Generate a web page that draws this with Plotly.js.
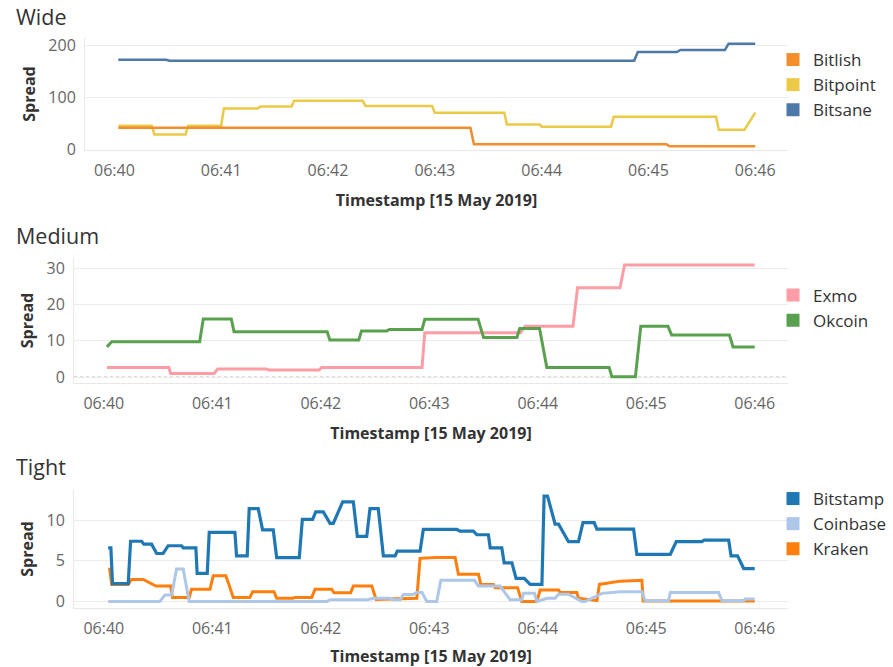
<!DOCTYPE html>
<html>
<head>
<meta charset="utf-8">
<script src="https://cdn.plot.ly/plotly-3.0.1.min.js"></script>
<style>html,body{margin:0;padding:0;background:#fff;}#chart{width:893px;height:667px;}</style>
</head>
<body>
<div id="chart"></div>
<script>
// Times are seconds after 06:40:00 on 15 May 2019
// ---- Wide ----
const bitsaneT = [2.2, 29, 31, 292, 294, 316, 318, 343, 345, 360];
const bitsaneV = [173, 173, 171, 171, 188, 188, 192, 192, 204, 204];
const bitlishT = [2.2, 200, 202, 310, 312, 360];
const bitlishV = [42, 42, 10, 10, 6, 6];
const bitpointT = [2.2, 21, 22.5, 40, 41.5, 60, 61.5, 80.5, 82, 99.5, 101, 139.5, 141, 178.5, 180, 219, 220.5, 239, 240, 279, 280.5, 338, 339.5, 354, 360];
const bitpointV = [46, 46, 29, 29, 46, 46, 79, 79, 83, 83, 94, 94, 84, 84, 71, 71, 48, 48, 44, 44, 63, 63, 38, 38, 71];
// ---- Medium ----
const okcoinT = [1.7, 4.4, 53, 55, 70.5, 72, 123.5, 125, 141, 142.5, 156.5, 158, 176, 177.5, 207, 210, 228.5, 230, 241, 245, 279.5, 281, 294, 297, 312, 314, 346, 348, 360];
const okcoinV = [8.3, 9.7, 9.7, 16, 16, 12.5, 12.5, 10.2, 10.2, 12.7, 12.7, 13.1, 13.1, 15.9, 15.9, 10.9, 10.9, 13.4, 13.4, 2.6, 2.6, 0.1, 0.1, 14.0, 14.0, 11.6, 11.6, 8.3, 8.3];
const exmoT = [1.7, 36, 37, 61, 63, 90, 91.5, 119, 120.5, 176, 177.5, 230.5, 233, 259.5, 262, 285.5, 288, 360];
const exmoV = [2.6, 2.6, 1.0, 1.0, 2.2, 2.2, 1.9, 1.9, 2.6, 2.6, 12.2, 12.2, 14, 14, 24.6, 24.6, 30.9, 30.9];
// ---- Tight ----
const bitstampT = [2.4,3.9,4.8,13.5,14.8,20.9,22.1,26.4,29.2,32.8,35.6,43.0,43.9,50.9,51.6,57.2,58.3,72.5,73.4,79.3,80.4,85.4,87.8,93.7,95.6,108.1,109.8,115.5,117.2,121.4,125.1,126.9,132.1,138.0,140.2,145.4,147.2,151.8,154.6,161.1,162.3,174.9,176.7,195.2,197.0,204.4,206.3,212.7,213.7,220.1,221.4,225.7,228.0,232.5,235.8,242.3,243.5,245.4,249.6,251.5,257.0,262.5,265.0,271.2,272.7,293.0,294.8,313.3,316.6,330.8,332.1,345.6,346.9,350.5,353.9,360];
const bitstampV = [6.6,6.6,2.2,2.2,7.4,7.4,7.05,7.05,5.9,5.9,6.85,6.85,6.6,6.6,3.45,3.45,8.5,8.5,5.6,5.6,11.4,11.4,8.8,8.8,5.4,5.4,10.1,10.1,11.0,11.0,9.6,9.6,12.25,12.25,8.0,8.0,11.4,11.4,5.6,5.6,6.2,6.2,8.85,8.85,8.65,8.65,8.2,8.2,6.6,6.6,4.75,4.75,2.85,2.85,2.1,2.1,12.95,12.95,9.5,9.5,7.35,7.35,9.7,9.7,8.9,8.9,5.8,5.8,7.35,7.35,7.55,7.55,5.6,5.6,4.05,4.05];
const krakenT = [2.4,3.3,4.3,13.5,15.3,21.8,28.8,36.9,38.0,47.2,48.5,58.7,60.5,67.5,71.6,80.8,82.3,94.1,95.6,104.6,105.7,115.0,116.8,126.0,127.3,136.5,138.0,148.2,150.6,163.8,173.1,174.9,183.8,194.3,196.1,207.2,208.5,215.5,216.4,228.8,231.2,239.5,241.3,251.5,252.4,261.6,262.5,272.7,274.1,285.6,297.6,298.3,360];
const krakenV = [3.95,3.95,2.1,2.1,2.7,2.7,1.9,1.9,0.5,0.5,1.5,1.5,3.15,3.15,0.5,0.5,1.2,1.2,0.4,0.4,0.5,0.5,1.5,1.5,1.07,1.07,1.9,1.9,0.26,0.3,0.4,5.3,5.4,5.4,3.35,3.35,2.1,2.1,1.7,1.7,0,0,1.4,1.4,1.1,1.1,0.4,0.1,2.1,2.5,2.6,0.05,0.05];
const coinbaseT = [2.4,31.0,33.8,37.5,40.2,43.9,47.2,123.3,125.1,145.4,149.1,158.3,160.0,163.8,165.7,171.0,173.1,176.0,178.6,184.1,186.4,205.0,207.2,219.2,224.7,231.2,232.1,238.2,239.5,245.0,249.6,251.5,257.0,264.4,266.2,275.5,285.6,297.6,299.4,312.3,313.3,340.0,341.9,353.9,354.8,360];
const coinbaseV = [0,0,0.8,0.8,4.0,4.0,0,0,0.2,0.2,0.4,0.4,0.2,0.2,0.85,0.85,1.1,1.1,0,0,2.6,2.6,1.9,1.9,0.2,0.2,1.0,1.0,0,0.4,0.4,0.9,0.9,0,0,1.0,1.2,1.2,0.1,0.1,1.1,1.1,0.1,0.1,0.3,0.3];

const panelTitles = ["Wide", "Medium", "Tight"];
const xTitle = "Timestamp [15 May 2019]";
const yTitle = "Spread";

function ts(s) {
  const m = Math.floor(s / 60);
  const sec = s - 60 * m;
  const ss = (sec < 10 ? "0" : "") + sec.toFixed(1);
  return "2019-05-15 06:" + (40 + m) + ":" + ss;
}
const W = 893, H = 667;
const px = v => v / W;
const py = v => (H - v) / H;

function line(name, T, V, color, width, ax) {
  return {x: T.map(ts), y: V, name: name, type: "scatter", mode: "lines",
    line: {color: color, width: width, shape: "linear"},
    xaxis: "x" + ax, yaxis: "y" + ax, showlegend: false, hoverinfo: "skip"};
}
function key(name, color, ax, lg) {
  return {x: [null], y: [null], name: name, type: "scatter", mode: "markers",
    marker: {symbol: "square", size: 13, color: color},
    xaxis: "x" + ax, yaxis: "y" + ax, legend: lg, showlegend: true};
}
const C = {bitlish: "#f28e2b", bitpoint: "#edc948", bitsane: "#4e79a7",
  exmo: "#ff9da7", okcoin: "#59a14f",
  bitstamp: "#1f77b4", coinbase: "#aec7e8", kraken: "#ff7f0e"};

const data = [
  line("Bitsane", bitsaneT, bitsaneV, C.bitsane, 2.5, ""),
  line("Bitpoint", bitpointT, bitpointV, C.bitpoint, 2.5, ""),
  line("Bitlish", bitlishT, bitlishV, C.bitlish, 2.5, ""),
  key("Bitlish", C.bitlish, "", "legend"),
  key("Bitpoint", C.bitpoint, "", "legend"),
  key("Bitsane", C.bitsane, "", "legend"),
  line("Exmo", exmoT, exmoV, C.exmo, 3, "2"),
  line("Okcoin", okcoinT, okcoinV, C.okcoin, 3, "2"),
  key("Exmo", C.exmo, "2", "legend2"),
  key("Okcoin", C.okcoin, "2", "legend2"),
  line("Kraken", krakenT, krakenV, C.kraken, 3, "3"),
  line("Coinbase", coinbaseT, coinbaseV, C.coinbase, 3, "3"),
  line("Bitstamp", bitstampT, bitstampV, C.bitstamp, 3.2, "3"),
  key("Bitstamp", C.bitstamp, "3", "legend3"),
  key("Coinbase", C.coinbase, "3", "legend3"),
  key("Kraken", C.kraken, "3", "legend3")
];

const FONT = "Open Sans, Noto Sans, sans-serif";
const xRange = [ts(-16.5), ts(378.4)];
function xa(dom, anchor) {
  return {domain: dom, anchor: anchor, type: "date", range: xRange, tickformat: "%H:%M",
    tick0: "2019-05-15 06:40:00", dtick: 60000, showgrid: false, zeroline: false,
    showline: true, linecolor: "#e8e8e8", linewidth: 1, ticks: "", ticklabelstandoff: 6,
    tickfont: {family: FONT, size: 16, color: "#666"},
    title: {text: "<b>" + xTitle + "</b>", font: {family: FONT, size: 16, color: "#333"}, standoff: 14},
    fixedrange: true};
}
function ya(dom, anchor, range, dtick) {
  return {domain: dom, anchor: anchor, range: range, dtick: dtick, tick0: 0, showgrid: true, gridcolor: "#ececec",
    gridwidth: 1, zeroline: false, showline: true, linecolor: "#e8e8e8", linewidth: 1, ticks: "",
    tickfont: {family: FONT, size: 16, color: "#666"}, ticklabelstandoff: 5,
    title: {text: "<b>" + yTitle + "</b>", font: {family: FONT, size: 16, color: "#333"}, standoff: 8},
    fixedrange: true};
}
function leg(x, y) {
  return {x: px(x), y: py(y), xanchor: "left", yanchor: "top", bgcolor: "rgba(0,0,0,0)",
    font: {family: FONT, size: 17, color: "#333"}, tracegroupgap: 0, itemclick: false, itemdoubleclick: false};
}

const layout = {
  width: W, height: H, margin: {l: 0, r: 0, t: 0, b: 0},
  paper_bgcolor: "#fff", plot_bgcolor: "#fff", showlegend: true,
  font: {family: FONT},
  xaxis: xa([px(85), px(788)], "y"),
  yaxis: ya([py(150), py(38)], "x", [-1, 215], 100),
  xaxis2: xa([px(74), px(788)], "y2"),
  yaxis2: ya([py(383), py(258)], "x2", [-1.65, 32.8], 10),
  xaxis3: xa([px(74), px(788)], "y3"),
  yaxis3: ya([py(608), py(490)], "x3", [-0.8, 13.7], 5),
  legend: leg(773, 42),
  legend2: leg(773, 277.5),
  legend3: leg(773, 481),
  shapes: [2, 3].map(n => ({type: "line", xref: "x" + n + " domain", yref: "y" + n,
    x0: 0, x1: 1, y0: 0, y1: 0, line: {color: "#bbb", width: 1, dash: "dot"}, layer: "below"})),
  annotations: panelTitles.map((t, i) => ({text: t, xref: "paper", yref: "paper",
    x: px(14), y: py([17, 235, 467][i]), xanchor: "left", yanchor: "middle", showarrow: false,
    font: {family: FONT, size: 21.5, color: "#333"}}))
};

Plotly.newPlot("chart", data, layout, {displayModeBar: false, staticPlot: true});
</script>
</body>
</html>
